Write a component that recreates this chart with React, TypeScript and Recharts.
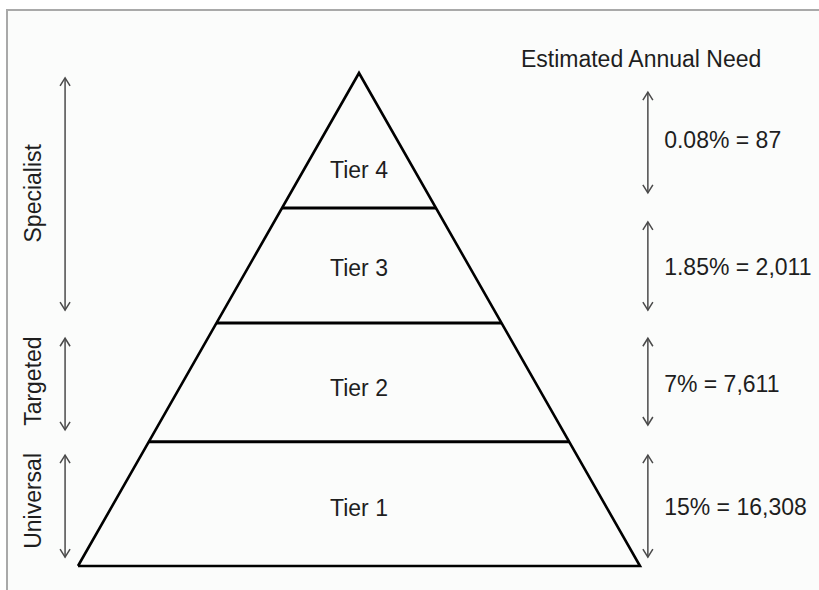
import React from 'react';
import { ComposedChart, XAxis, YAxis, Line, ReferenceLine, Scatter } from 'recharts';

// ---- data (levels: 0 = base of pyramid, 100 = apex) ----
const tierNames = ['Tier 1', 'Tier 2', 'Tier 3', 'Tier 4'];
const tierBoundaries = [25.2, 49.3, 72.6];
const tierLabelLevels = [11.8, 36.1, 60.4, 80.3];

const needLabels = ['15% = 16,308', '7% = 7,611', '1.85% = 2,011', '0.08% = 87'];
const needLabelLevels = [12.0, 36.9, 60.6, 86.4];
const needArrowLow = [1.8, 28.6, 51.9, 75.7];
const needArrowHigh = [22.5, 46.2, 69.8, 96.1];

const groupNames = ['Universal', 'Targeted', 'Specialist'];
const groupLabelLevels = [13.2, 37.5, 75.6];
const groupArrowLow = [1.8, 27.6, 51.9];
const groupArrowHigh = [22.5, 46.2, 99.0];

const needTitle = 'Estimated Annual Need';
const needTitleLevel = 102.8;

const apexLevel = 100;
const baseHalfWidth = 50;

// ---- layout ----
const W = 819;
const H = 590;
const PX_X = 5.62;
const PX_Y = 4.93;
const X_MIN = -baseHalfWidth - 78 / PX_X;
const X_MAX = X_MIN + W / PX_X;
const Y_MIN = -(H - 566) / PX_Y;
const Y_MAX = Y_MIN + H / PX_Y;

const LEFT_ARROW_X = -52.3;
const LEFT_LABEL_X = -58.0;
const RIGHT_ARROW_X = 51.4;
const RIGHT_LABEL_X = 54.3;
const TITLE_X = 50.2;

const FONT = '"Liberation Sans", Arial, sans-serif';
const FONT_SIZE = 23;
const TEXT_COLOR = '#1e1e1e';
const ARROW_COLOR = '#4a4a4a';

const pyramidData = [
  { x: -baseHalfWidth, y: 0 },
  { x: 0, y: apexLevel },
  { x: baseHalfWidth, y: 0 },
  { x: -baseHalfWidth, y: 0 },
];

const halfWidthAt = (level: number) => baseHalfWidth * (1 - level / apexLevel);

type TextItem = { x: number; y: number; text: string; anchor: string; rotate: boolean };

const textItems: TextItem[] = [
  ...tierNames.map((t, i) => ({ x: 0, y: tierLabelLevels[i], text: t, anchor: 'middle', rotate: false })),
  ...needLabels.map((t, i) => ({ x: RIGHT_LABEL_X, y: needLabelLevels[i], text: t, anchor: 'start', rotate: false })),
  ...groupNames.map((t, i) => ({ x: LEFT_LABEL_X, y: groupLabelLevels[i], text: t, anchor: 'middle', rotate: true })),
  { x: TITLE_X, y: needTitleLevel, text: needTitle, anchor: 'middle', rotate: false },
];

const TextShape = (props: any) => {
  const { cx, cy, payload } = props;
  if (cx == null || cy == null) return null;
  return (
    <text
      x={cx}
      y={cy}
      textAnchor={payload.anchor}
      dominantBaseline="central"
      fontFamily={FONT}
      fontSize={FONT_SIZE}
      fill={TEXT_COLOR}
      transform={payload.rotate ? `rotate(-90, ${cx}, ${cy})` : undefined}
    >
      {payload.text}
    </text>
  );
};

const ArrowShape = (props: any) => {
  const { x1, y1, x2, y2 } = props;
  if ([x1, y1, x2, y2].some((v) => v == null || isNaN(v))) return null;
  const top = Math.min(y1, y2);
  const bottom = Math.max(y1, y2);
  const x = x1;
  const hw = 5;
  const hl = 8;
  return (
    <g stroke={ARROW_COLOR} strokeWidth={1.5} fill="none">
      <line x1={x} y1={top} x2={x} y2={bottom} />
      <polyline points={`${x - hw},${top + hl} ${x},${top} ${x + hw},${top + hl}`} />
      <polyline points={`${x - hw},${bottom - hl} ${x},${bottom} ${x + hw},${bottom - hl}`} />
    </g>
  );
};

export default function App() {
  return (
    <div style={{ position: 'absolute', left: 0, top: 0, width: W, height: H, background: '#ffffff' }}>
      <div
        style={{
          position: 'absolute',
          left: 6,
          top: 9,
          width: W - 6,
          height: H - 9,
          boxSizing: 'border-box',
          borderLeft: '2px solid #a9a9a9',
          borderTop: '2px solid #a9a9a9',
          background: '#fbfcfb',
        }}
      />
      <div style={{ position: 'absolute', left: 0, top: 0 }}>
        <ComposedChart width={W} height={H} margin={{ top: 0, right: 0, bottom: 0, left: 0 }}>
          <XAxis type="number" dataKey="x" domain={[X_MIN, X_MAX]} allowDataOverflow hide />
          <YAxis type="number" dataKey="y" domain={[Y_MIN, Y_MAX]} allowDataOverflow hide />
          <Line
            data={pyramidData}
            dataKey="y"
            stroke="#000"
            strokeWidth={2.6}
            dot={false}
            activeDot={false}
            isAnimationActive={false}
            strokeLinejoin="miter"
          />
          {tierBoundaries.map((lvl) => (
            <ReferenceLine
              key={`b${lvl}`}
              segment={[
                { x: -halfWidthAt(lvl), y: lvl },
                { x: halfWidthAt(lvl), y: lvl },
              ]}
              stroke="#000"
              strokeWidth={3}
            />
          ))}
          {needArrowLow.map((lo, i) => (
            <ReferenceLine
              key={`n${i}`}
              segment={[
                { x: RIGHT_ARROW_X, y: lo },
                { x: RIGHT_ARROW_X, y: needArrowHigh[i] },
              ]}
              shape={ArrowShape}
            />
          ))}
          {groupArrowLow.map((lo, i) => (
            <ReferenceLine
              key={`g${i}`}
              segment={[
                { x: LEFT_ARROW_X, y: lo },
                { x: LEFT_ARROW_X, y: groupArrowHigh[i] },
              ]}
              shape={ArrowShape}
            />
          ))}
          <Scatter data={textItems} dataKey="y" shape={TextShape} isAnimationActive={false} />
        </ComposedChart>
      </div>
    </div>
  );
}
